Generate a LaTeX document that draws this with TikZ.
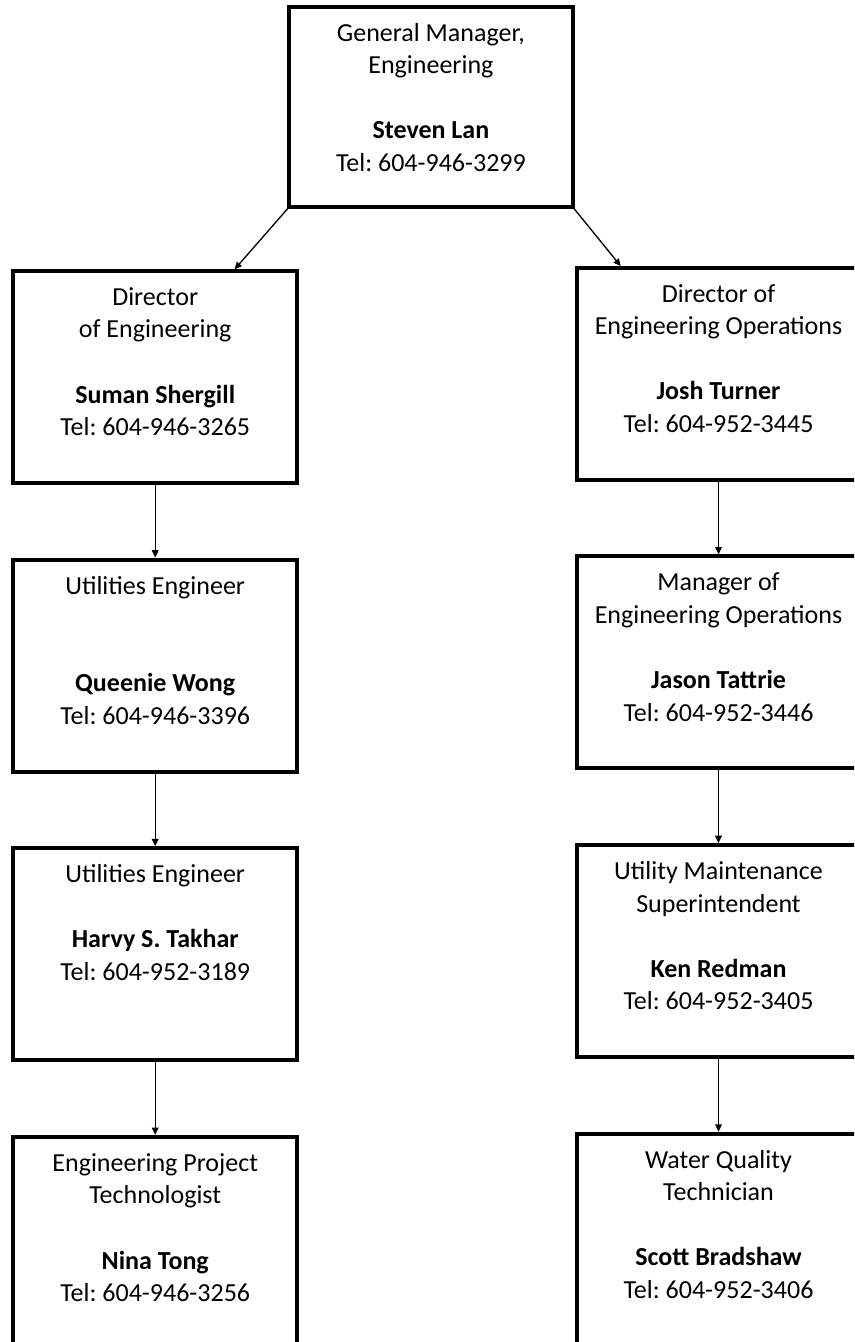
\documentclass[tikz,border=0pt]{standalone}
\usepackage{fontspec}
\setmainfont{Carlito}
\usetikzlibrary{arrows.meta,positioning,calc}
\frenchspacing

\begin{document}
\begin{tikzpicture}[
    x=0.75pt, y=-0.75pt,
    node distance=57.5pt,
    font=\fontsize{19.5}{24.4}\selectfont,
    post/.style={draw, line width=3pt, inner sep=0pt, outer sep=0pt,
                 execute at begin node={\begin{minipage}[c][#1][t]{212.8pt}%
                   \centering\rule{0pt}{25.9pt}},
                 execute at end node={\end{minipage}}},
    post/.default=159pt,
    arr/.style={-{Triangle[length=5.5pt,width=5pt]}, line width=1pt, shorten >=1.5pt}
  ]
    \useasboundingbox (0,0) rectangle (854,1342);
    \clip (0,0) rectangle (854,1342);

    % General manager on top
    \node[post=150.2pt] (gm) at (430.9,106.9)
      {General Manager,\\Engineering\\[\baselineskip]\textbf{Steven Lan}\\Tel: 604-946-3299};

    % Engineering column
    \node[post] (dir) at (155.2,376.9)
      {Director\\of Engineering\\[\baselineskip]\textbf{Suman Shergill}\\Tel: 604-946-3265};
    \node[post, below=of dir] (util1)
      {Utilities Engineer\\[2\baselineskip]\textbf{Queenie Wong}\\Tel: 604-946-3396};
    \node[post, below=of util1] (util2)
      {Utilities Engineer\\[\baselineskip]\textbf{Harvy S. Takhar}\\Tel: 604-952-3189};
    \node[post, below=of util2] (tech)
      {Engineering Project\\Technologist\\[\baselineskip]\textbf{Nina Tong}\\Tel: 604-946-3256};

    % Operations column
    \node[post] (ops) at (718.5,373.7)
      {Director of\\Engineering Operations\\[\baselineskip]\textbf{Josh Turner}\\Tel: 604-952-3445};
    \node[post, below=of ops] (mgr)
      {Manager of\\Engineering Operations\\[\baselineskip]\textbf{Jason Tattrie}\\Tel: 604-952-3446};
    \node[post, below=of mgr] (super)
      {Utility Maintenance\\Superintendent\\[\baselineskip]\textbf{Ken Redman}\\Tel: 604-952-3405};
    \node[post, below=of super] (wq)
      {Water Quality\\Technician\\[\baselineskip]\textbf{Scott Bradshaw}\\Tel: 604-952-3406};

    \draw[arr] (gm.south west) -- ($(dir.north)!0.55!(dir.north east)$);
    \draw[arr] (gm.south east) -- ($(ops.north)!0.68!(ops.north west)$);

    \draw[arr] (dir) -- (util1);
    \draw[arr] (util1) -- (util2);
    \draw[arr] (util2) -- (tech);

    \draw[arr] (ops) -- (mgr);
    \draw[arr] (mgr) -- (super);
    \draw[arr] (super) -- (wq);
\end{tikzpicture}
\end{document}
